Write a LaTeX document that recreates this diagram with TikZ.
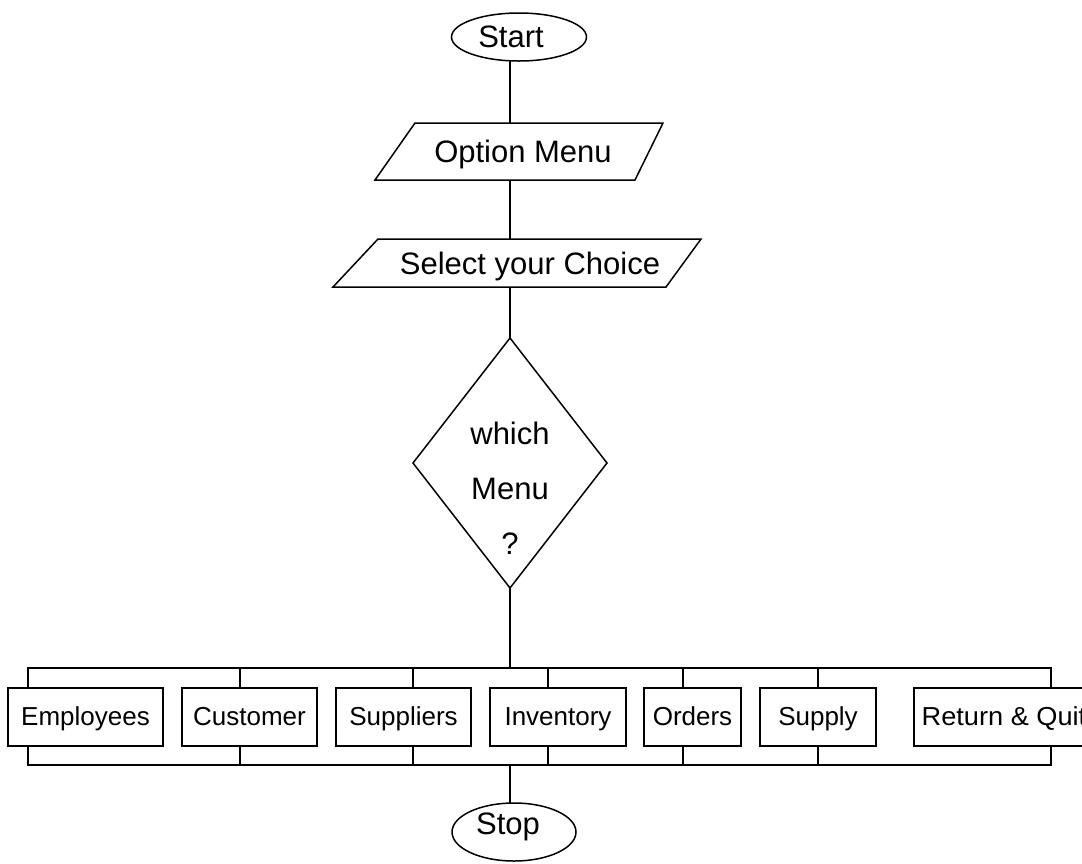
\documentclass[tikz,border=0pt]{standalone}
\usepackage{fontspec}
\setmainfont{Liberation Sans}
\usetikzlibrary{shapes.geometric}
\begin{document}
\begin{tikzpicture}[x=1pt, y=-1pt, line width=1.5pt,
  every node/.style={inner sep=0pt, outer sep=0pt},
  bigtext/.style={font=\fontsize{31}{37}\selectfont, text height=22pt, text depth=0pt},
  terminal/.style={draw, ellipse},
  decision/.style={draw, diamond},
  menubox/.style={draw, rectangle, minimum height=58pt, text height=19pt, text depth=3pt,
    font=\fontsize{26}{31}\selectfont},
]
\useasboundingbox (0,0) rectangle (1082,863);

% start terminal
\node[terminal, minimum width=135pt, minimum height=48pt] (start) at (519,37) {};
\node[bigtext] (starttext) at (511,36) {Start};

% input/output steps
\node[bigtext, minimum height=57pt] (opt) at (523,151.5) {Option Menu};
\draw (415,123) -- (663,123) -- (635,180) -- (375,180) -- cycle;

\node[bigtext, minimum height=48pt] (sel) at (530,263) {Select your Choice};
\draw (378,239) -- (701,239) -- (666,287) -- (333,287) -- cycle;

% decision
\node[decision, minimum width=194pt, minimum height=250pt] (dia) at (510,463) {};
\node[font=\fontsize{31}{55}\selectfont, align=center] (diatext) at (510,488) {which\\Menu\\?};

% menu entries
\node[menubox, minimum width=155pt] (emp) at (85.5,717) {Employees};
\node[menubox, minimum width=135pt] (cus) at (249.5,717) {Customer};
\node[menubox, minimum width=135pt] (sup) at (403.5,717) {Suppliers};
\node[menubox, minimum width=136pt] (inv) at (558,717) {Inventory};
\node[menubox, minimum width=97pt]  (ord) at (692.5,717) {Orders};
\node[menubox, minimum width=116pt] (spl) at (818,717) {Supply};
\node[menubox, minimum width=180pt] (ret) at (1004,717) {\scalebox{1.045}[1]{Return \& Quit}};

% stop terminal
\node[terminal, minimum width=124pt, minimum height=58pt] (stop) at (514,832) {};
\node[bigtext] (stoptext) at (508,823) {Stop};

% bus junctions
\coordinate (busT) at (510,668);
\coordinate (busB) at (510,765);

% main flow
\draw (dia.north |- start.south) -- (dia.north |- opt.north);
\draw (dia.north |- opt.south) -- (dia.north |- sel.north);
\draw (dia.north |- sel.south) -- (dia.north);
\draw (dia.south) -- (busT);
\draw (busB) -- (busB |- stop.north);

% distribution and collection buses
\draw ([xshift=-57.5pt]emp.north) -- ([xshift=-57.5pt]emp.north |- busT)
  -- ([xshift=47pt]ret.north |- busT) -- ([xshift=47pt]ret.north);
\draw ([xshift=-57.5pt]emp.south) -- ([xshift=-57.5pt]emp.south |- busB)
  -- ([xshift=47pt]ret.south |- busB) -- ([xshift=47pt]ret.south);
\foreach \n/\dx in {cus/-9.5, sup/9.5, inv/-10, ord/-9.5, spl/0} {
  \draw ([xshift=\dx pt]\n.north) -- ([xshift=\dx pt]\n.north |- busT);
  \draw ([xshift=\dx pt]\n.south) -- ([xshift=\dx pt]\n.south |- busB);
}
\end{tikzpicture}
\end{document}
